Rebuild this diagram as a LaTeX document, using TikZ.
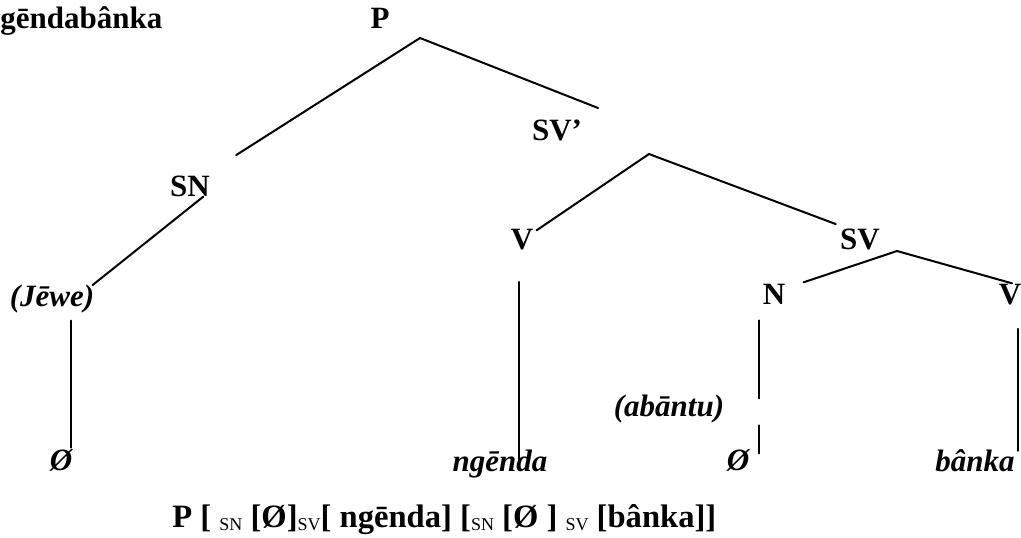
\documentclass[tikz,border=0pt]{standalone}
\usepackage{fontspec}
\setmainfont{Liberation Serif}
\usetikzlibrary{positioning,calc}

% small category label inside the bracketed string
\newcommand{\lowcat}[1]{\raisebox{-1.5pt}{\fontsize{9}{10}\selectfont\mdseries #1}}

\begin{document}
\begin{tikzpicture}[
  x=0.5pt, y=-0.5pt,
  cat/.style={inner sep=0pt, anchor=base,
    font=\fontsize{15.5}{18}\selectfont\bfseries},
  leaf/.style={cat, font=\fontsize{15.5}{18}\selectfont\bfseries\itshape},
  branch/.style={line width=1pt, line cap=round},
]
  \useasboundingbox[fill=white] (0,0) rectangle (1021,537);

  % ── Labels ──────────────────────────────────────────────────────────────
  \node[cat, anchor=base west] (title) at (0,28) {gēndabânka};
  \node[cat]  (P)     at (380,28)  {P};
  \node[cat]  (SN)    at (190,196) {SN};
  \node[cat]  (SVp)   at (557,140) {SV’};
  \node[cat]  (Vm)    at (522,249) {V};
  \node[cat]  (SV)    at (860,249) {SV};
  \node[cat]  (N)     at (774,304) {N};
  \node[cat]  (Vr)    at (1010,304) {V};

  \node[leaf] (jewe)  at (52,306)  {(Jēwe)};
  \node[leaf] (zeroL) at (61,470)  {Ø};
  \node[leaf] (ngenda) at (500,471) {ngēnda};
  \node[leaf] (abantu) at (669,416) {(abāntu)};
  \node[leaf] (zeroR) at (738,470) {Ø};
  \node[leaf] (banka) at (975,471) {bânka};

  \node[cat, anchor=base west, font=\fontsize{16.3}{19}\selectfont\bfseries]
      (string) at (172,527)
      {P [ \lowcat{SN} [Ø]\lowcat{SV}[ ngēnda] [\lowcat{SN} [Ø ] \lowcat{SV} [bânka]]};

  % ── Branching points ────────────────────────────────────────────────────
  \coordinate (Pj)   at (420,38);
  \coordinate (SVpj) at (649,154);
  \coordinate (SVj)  at (897,251);

  % ── Branches ────────────────────────────────────────────────────────────
  \draw[branch] ($(SN.north east)+(26,-20)$) -- (Pj) -- ($(SVp.north)+(41,-11)$);
  \draw[branch] ($(Vm.north east)+(3,2)$) -- (SVpj) -- ($(SV.north west)+(-4,-4)$);
  \draw[branch] ($(N.north east)+(18,-1)$) -- (SVj) -- ($(Vr.north)+(2,0)$);
  \draw[branch] ($(SN.south east)+(-7,0)$) -- ($(jewe.north east)+(-2,1)$);

  % vertical lines down to the terminals
  \draw[branch] ($(zeroL.north east)+(-2,-1)$) -- ++(0,-127);
  \draw[branch] ($(Vm.south)+(-3,32)$) -- ++(0,179);
  \draw[branch] ($(N.south)+(-15,16)$) -- ++(0,78);
  \draw[branch] ($(N.south)+(-15,121)$) -- ++(0,28);
  \draw[branch] ($(banka.north east)+(3,2)$) -- ++(0,-122);

\end{tikzpicture}
\end{document}
